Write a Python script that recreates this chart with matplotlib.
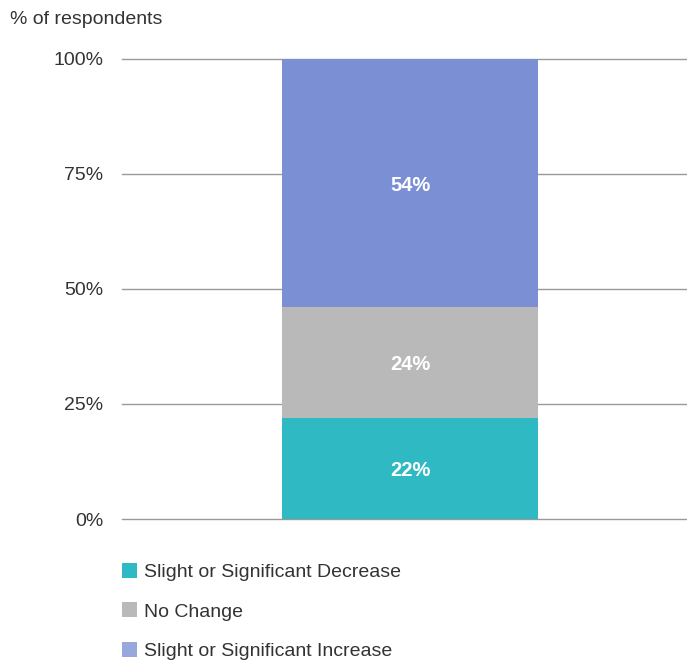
import matplotlib.pyplot as plt
from matplotlib.patches import Patch

plt.rcParams['font.family'] = ['Liberation Sans', 'DejaVu Sans']

# survey shares, bottom to top of the stack
categories = ['Slight or Significant Decrease', 'No Change', 'Slight or Significant Increase']
shares = [22, 24, 54]
bar_colors = ['#2fb9c2', '#b9b9b9', '#7a8fd4']
legend_colors = ['#2fb9c2', '#b9b9b9', '#98a8dd']
yticks = [0, 25, 50, 75, 100]
ytick_labels = ['0%', '25%', '50%', '75%', '100%']

fig = plt.figure(figsize=(6.87, 6.62), dpi=100)
ax = fig.add_axes([122 / 687, 1 - 519 / 662, 1 - 122 / 687, 460 / 662])

bottom = 0
for share, color in zip(shares, bar_colors):
    ax.bar(0.51, share, width=0.453, bottom=bottom, color=color, zorder=3)
    ax.text(0.51, bottom + share / 2, f'{share}%', ha='center', va='center_baseline',
            color='white', fontsize=14.5, fontweight='bold', zorder=4)
    bottom += share

ax.set_xlim(0, 1)
ax.set_ylim(0, 100)
ax.set_yticks(yticks)
ax.set_yticklabels(ytick_labels, fontsize=14, color='#333333')
ax.set_xticks([])
ax.tick_params(axis='y', length=0, pad=13.5)
for s in ax.spines.values():
    s.set_visible(False)
for y in yticks:
    ax.axhline(y, color='#999999', lw=1.0, zorder=1, clip_on=False)

fig.text(10 / 687, 1 - 19 / 662, '% of respondents', fontsize=14,
         color='#333333', va='center', ha='left')

handles = [Patch(facecolor=c, edgecolor='none') for c in legend_colors]
fig.legend(handles, categories, loc='upper left',
           bbox_to_anchor=(114 / 687, 1 - 555 / 662), frameon=False,
           fontsize=14, handlelength=0.8, handleheight=0.8, handletextpad=0.33,
           labelspacing=1.1, labelcolor='#333333', borderaxespad=0)

fig.savefig('out.png', dpi=100)
